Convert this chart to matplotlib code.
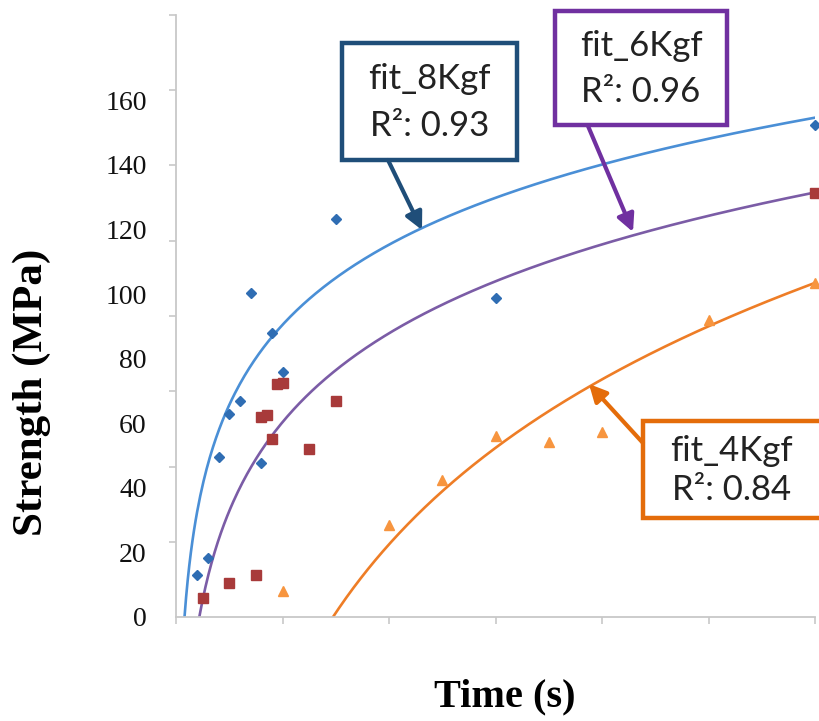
import numpy as np
import matplotlib
matplotlib.use("Agg")
import matplotlib.pyplot as plt
from matplotlib.patches import Rectangle, FancyArrowPatch
from matplotlib.ticker import FixedLocator, NullFormatter

# ---- data ----
t_8 = [20, 30, 40, 50, 60, 70, 80, 90, 100, 150, 300, 600]
s_8 = [13.0, 18.3, 49.5, 62.8, 66.9, 100.3, 47.7, 87.9, 75.9, 123.2, 98.8, 152.3]
t_6 = [25, 50, 75, 80, 85, 90, 95, 100, 125, 150, 600]
s_6 = [5.9, 10.5, 13.0, 61.9, 62.5, 55.1, 72.1, 72.4, 52.0, 66.9, 131.3]
t_4 = [100, 200, 250, 300, 350, 400, 500, 600]
s_4 = [8.0, 28.5, 42.4, 56.0, 54.2, 57.3, 92.0, 103.4]

# logarithmic trend lines: strength = a*ln(t) + b
fit_8 = (35.8, -74.4)
fit_6 = (39.7, -122.5)
fit_4 = (73.7, -368.0)

fit_labels = ["fit_8Kgf\nR\u00b2: 0.93", "fit_6Kgf\nR\u00b2: 0.96", "fit_4Kgf\nR\u00b2: 0.84"]
ytick_vals = [0, 20, 40, 60, 80, 100, 120, 140, 160]
xtick_vals = [0, 100, 200, 300, 400, 500, 600]
x_max = 600
y_max = 186.4

W, H = 820, 721
fig = plt.figure(figsize=(W / 100, H / 100), dpi=100)
fig.patch.set_facecolor("white")


def fx(px):
    return px / W


def fy(py):
    return 1 - py / H


ax = fig.add_axes([fx(176), fy(617), fx(815) - fx(176), fy(15) - fy(617)])
ax.set_xlim(0, x_max)
ax.set_ylim(0, y_max)

# trend lines
for (a, b), col in [(fit_8, "#4a8fd6"), (fit_6, "#7b5ca6"), (fit_4, "#ee7d26")]:
    t0 = np.exp(-b / a)
    tt = np.linspace(t0, x_max, 400)
    ax.plot(tt, a * np.log(tt) + b, color=col, lw=1.9, zorder=2)

# data points
ax.plot(t_8, s_8, linestyle="none", marker="D", ms=5.5, color="#2f6db3", clip_on=False, zorder=3)
ax.plot(t_6, s_6, linestyle="none", marker="s", ms=7.5, color="#a83a3a", clip_on=False, zorder=3)
ax.plot(t_4, s_4, linestyle="none", marker="^", ms=6.5, color="#f7953f", clip_on=False, zorder=3)

# axes styling
for side in ["top", "right"]:
    ax.spines[side].set_visible(False)
for side in ["left", "bottom"]:
    ax.spines[side].set_color("#c8c8c8")
    ax.spines[side].set_linewidth(1.3)

ax.set_yticks(ytick_vals)
ax.set_yticklabels([str(v) for v in ytick_vals], family="Liberation Serif", fontsize=20)
ax.tick_params(axis="y", which="major", length=0, pad=21, colors="#111111")
ax.yaxis.set_minor_locator(FixedLocator(np.linspace(0, y_max, 9)))
ax.tick_params(axis="y", which="minor", length=5, width=1.2, color="#c8c8c8")

ax.set_xticks(xtick_vals)
ax.xaxis.set_major_formatter(NullFormatter())
ax.tick_params(axis="x", which="major", length=5, width=1.2, color="#c8c8c8")

# axis titles
fig.text(fx(505), fy(697), "Time (s)", family="Liberation Serif", fontweight="bold",
         fontsize=29, ha="center", va="center")
fig.text(fx(32), fy(392), "Strength (MPa)", family="Liberation Serif", fontweight="bold",
         fontsize=31, ha="center", va="center", rotation=90)

# callout boxes
boxes = [
    ((342, 43, 517, 160), "#1f4e79", (388, 160), (422, 230)),
    ((555, 11, 727, 125), "#7030a0", (588, 126), (633, 232)),
    ((643, 421, 830, 518), "#e46c0a", (643, 443), (589, 384)),
]

for ((x0, y0, x1, y1), col, tail, tip), lab in zip(boxes, fit_labels):
    rect = Rectangle((fx(x0), fy(y1)), fx(x1) - fx(x0), fy(y0) - fy(y1),
                     transform=fig.transFigure, facecolor="white", edgecolor=col,
                     lw=3.2, zorder=5)
    fig.patches.append(rect)
    line1, line2 = lab.split("\n")
    cx = (x0 + min(x1, 820)) / 2
    fig.text(fx(cx), fy(y0 + (y1 - y0) * 0.31), line1, family="Lato", fontsize=25,
             ha="center", va="center", color="#222222", zorder=6)
    fig.text(fx(cx), fy(y0 + (y1 - y0) * 0.71), line2, family="Lato", fontsize=25,
             ha="center", va="center", color="#222222", zorder=6)
    arr = FancyArrowPatch((fx(tail[0]), fy(tail[1])), (fx(tip[0]), fy(tip[1])),
                          transform=fig.transFigure, arrowstyle="-|>", mutation_scale=26,
                          lw=3, color=col, shrinkA=0, shrinkB=0, zorder=5)
    fig.patches.append(arr)

fig.savefig("out.png", dpi=100, facecolor="white")
